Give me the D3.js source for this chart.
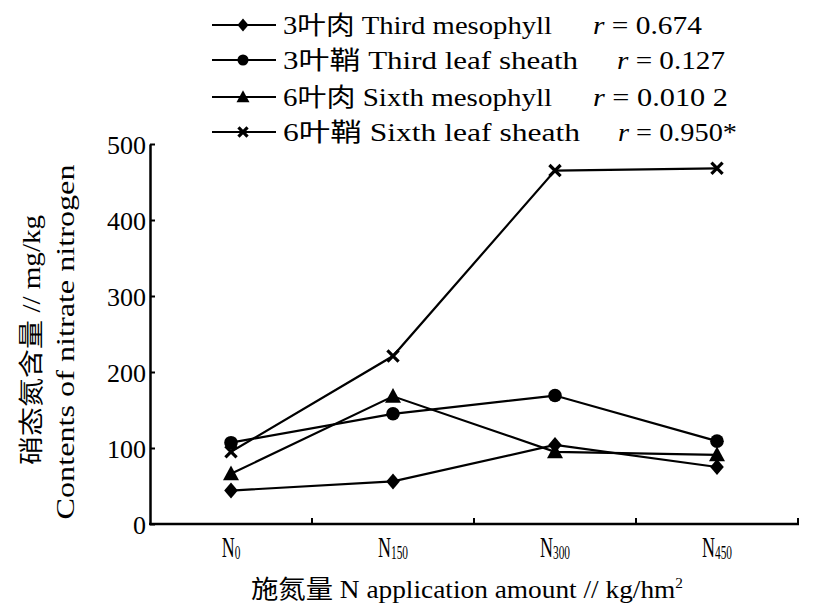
<!DOCTYPE html>
<html>
<head>
<meta charset="utf-8">
<script src="https://cdn.jsdelivr.net/npm/d3@7"></script>
<style>
  body { margin: 0; background: #fff; }
  text { font-family: "Liberation Serif", "Noto Sans CJK SC", serif; fill: #000; }
</style>
</head>
<body>
<div id="chart"></div>
<script>
// categories (N application levels)
var levels = ["N0", "N150", "N300", "N450"];
var levelSubs = ["0", "150", "300", "450"];
var yTicks = [0, 100, 200, 300, 400, 500];

// nitrate nitrogen content, mg/kg
var thirdMesophyll = [44, 56, 104, 75];
var thirdSheath = [107, 145, 169, 109];
var sixthMesophyll = [66, 168, 95, 91];
var sixthSheath = [95, 221, 465, 468];

var seriesNames = ["3叶肉 Third mesophyll", "3叶鞘 Third leaf sheath", "6叶肉 Sixth mesophyll", "6叶鞘 Sixth leaf sheath"];
var seriesR = ["0.674", "0.127", "0.010 2", "0.950*"];
var seriesSymbols = ["diamond", "circle", "triangle", "cross"];

var W = 825, H = 608;
var svg = d3.select("#chart").append("svg")
    .attr("width", W).attr("height", H);

var x = d3.scaleBand().domain(levels).range([150, 798]).padding(0);
var y = d3.scaleLinear().domain([0, 500]).range([524, 144]);

// marker drawing
function drawMarker(g, type, size) {
  if (type == "diamond") {
    g.append("path").attr("d", "M0," + (-size) + "L" + size * 0.85 + ",0L0," + size + "L" + (-size * 0.85) + ",0Z");
  } else if (type == "circle") {
    g.append("circle").attr("r", size * 0.85);
  } else if (type == "triangle") {
    g.append("path").attr("d", "M0," + (-size * 1.05) + "L" + size + "," + size * 0.8 + "L" + (-size) + "," + size * 0.8 + "Z");
  } else {
    var s = size * 0.7;
    g.append("path").attr("d", "M" + (-s) + "," + (-s) + "L" + s + "," + s + "M" + s + "," + (-s) + "L" + (-s) + "," + s)
      .attr("stroke", "#000").attr("stroke-width", 3.2).attr("fill", "none");
  }
}

// y axis
var yAxis = d3.axisLeft(y).tickValues(yTicks).tickSizeInner(-5).tickSizeOuter(0).tickPadding(4);
var gy = svg.append("g").attr("transform", "translate(150,0)").call(yAxis);
gy.select(".domain").attr("stroke-width", 2.5);
gy.selectAll(".tick line").attr("stroke-width", 2);
gy.selectAll(".tick text").attr("font-size", 26).attr("font-family", "Liberation Serif").attr("dy", "0.36em");

// x axis line + boundary ticks
var bounds = levels.map(function (d) { return x(d) + x.bandwidth(); });
svg.append("line").attr("x1", 149).attr("x2", x.range()[1] + 1)
  .attr("y1", y(0)).attr("y2", y(0)).attr("stroke", "#000").attr("stroke-width", 2.5);
svg.selectAll(".xtick").data(bounds).enter().append("line")
  .attr("x1", function (d) { return d; }).attr("x2", function (d) { return d; })
  .attr("y1", y(0)).attr("y2", y(0) - 6)
  .attr("stroke", "#000").attr("stroke-width", 2);

// x tick labels with subscripts
levelSubs.forEach(function (sub, i) {
  var cx = x(levels[i]) + x.bandwidth() / 2;
  var t = svg.append("text")
    .attr("transform", "translate(" + cx + ",557) scale(0.6,1)")
    .attr("text-anchor", "middle")
    .attr("font-size", 30);
  t.append("tspan").text("N");
  t.append("tspan").attr("font-size", 19).attr("dy", 2).text(sub);
});

// lines and markers
var allSeries = [thirdMesophyll, thirdSheath, sixthMesophyll, sixthSheath];
var line = d3.line()
  .x(function (d, i) { return x(levels[i]) + x.bandwidth() / 2; })
  .y(function (d) { return y(d); });

allSeries.forEach(function (vals, k) {
  svg.append("path").datum(vals).attr("d", line)
    .attr("fill", "none").attr("stroke", "#000").attr("stroke-width", 2.2);
});
allSeries.forEach(function (vals, k) {
  vals.forEach(function (v, i) {
    var g = svg.append("g")
      .attr("transform", "translate(" + (x(levels[i]) + x.bandwidth() / 2) + "," + y(v) + ")");
    drawMarker(g, seriesSymbols[k], 8);
  });
});

// legend
var legendY = [25, 60, 97, 132];
var nameLen = [269, 295, 269, 297];
var rX = [593, 617, 593, 618];
var rLen = [109, 108, 135, 119];
seriesNames.forEach(function (name, k) {
  var ly = legendY[k];
  svg.append("line").attr("x1", 212).attr("x2", 276).attr("y1", ly).attr("y2", ly)
    .attr("stroke", "#000").attr("stroke-width", 2.2);
  var g = svg.append("g").attr("transform", "translate(243," + ly + ")");
  drawMarker(g, seriesSymbols[k], 6.5);
  svg.append("text").attr("x", 283).attr("y", ly + 9).attr("font-size", 25)
    .attr("textLength", nameLen[k]).attr("lengthAdjust", "spacingAndGlyphs")
    .text(name);
  var rt = svg.append("text").attr("x", rX[k]).attr("y", ly + 9).attr("font-size", 25)
    .attr("textLength", rLen[k]).attr("lengthAdjust", "spacingAndGlyphs");
  rt.append("tspan").attr("font-style", "italic").text("r");
  rt.append("tspan").text(" = " + seriesR[k]);
});

// axis titles
svg.append("text")
  .attr("transform", "translate(40,340) rotate(-90)")
  .attr("text-anchor", "middle").attr("font-size", 25)
  .attr("textLength", 250).attr("lengthAdjust", "spacingAndGlyphs")
  .text("硝态氮含量 // mg/kg");
svg.append("text")
  .attr("transform", "translate(74,342) rotate(-90)")
  .attr("text-anchor", "middle").attr("font-size", 25)
  .attr("textLength", 355).attr("lengthAdjust", "spacingAndGlyphs")
  .text("Contents of nitrate nitrogen");

var xt = svg.append("text").attr("x", 467).attr("y", 598)
  .attr("text-anchor", "middle").attr("font-size", 25)
  .attr("textLength", 432).attr("lengthAdjust", "spacingAndGlyphs");
xt.append("tspan").text("施氮量 N application amount // kg/hm");
xt.append("tspan").attr("font-size", 14).attr("dy", -10).text("2");
</script>
</body>
</html>
